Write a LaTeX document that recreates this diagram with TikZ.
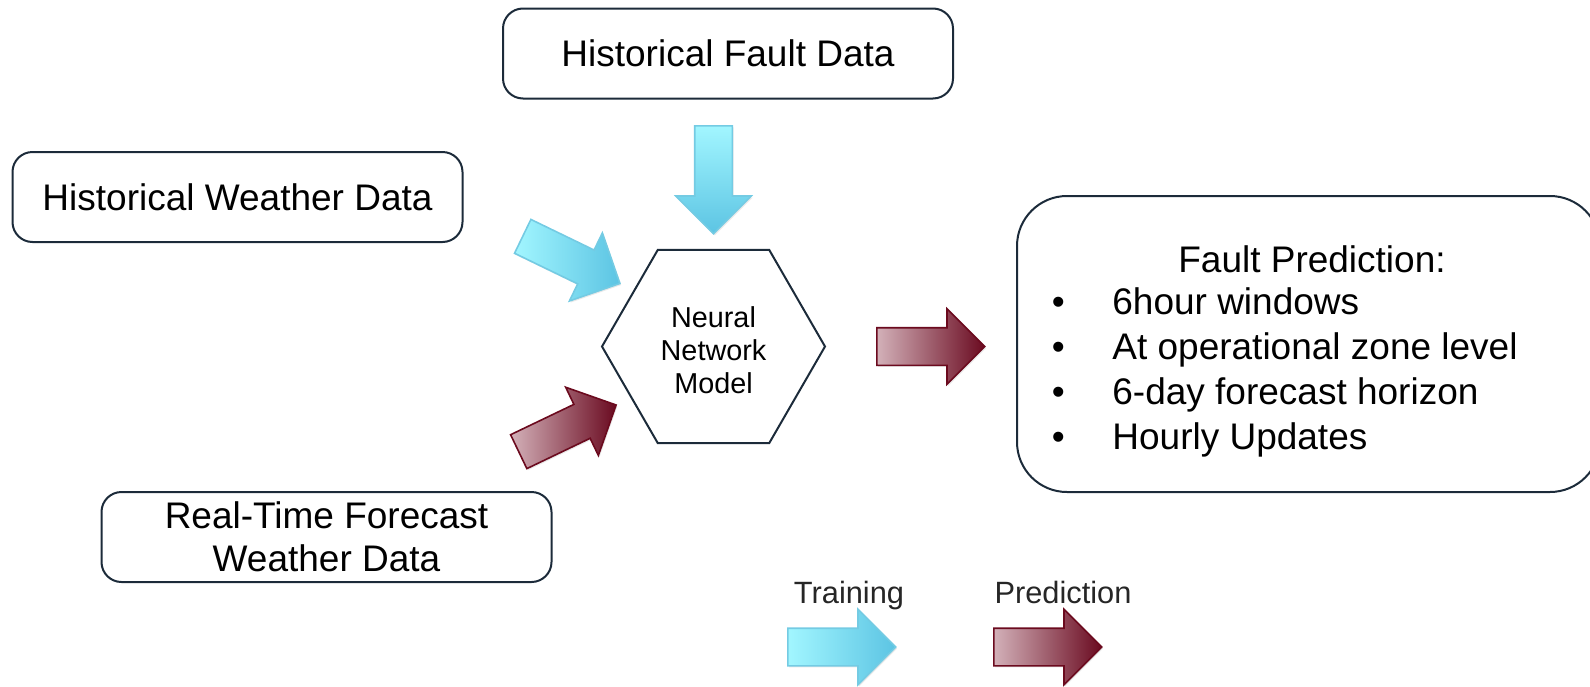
\documentclass[tikz,border=0pt]{standalone}
\usepackage{fontspec}
\setmainfont{Liberation Sans}
\usetikzlibrary{shapes.geometric,shapes.arrows,shadows}
\definecolor{boxline}{HTML}{1C2B3A}
\definecolor{bluel}{HTML}{A2F6FF}
\definecolor{blued}{HTML}{5CC4E3}
\definecolor{blueb}{HTML}{74CBE3}
\definecolor{redl}{HTML}{D3B1B9}
\definecolor{redd}{HTML}{6A0A20}
\definecolor{redb}{HTML}{6B0A1E}
\definecolor{legtext}{HTML}{262626}
\begin{document}
\begin{tikzpicture}[x=0.5pt,y=-0.5pt,
  databox/.style={draw=boxline, line width=1pt, rounded corners=10pt, minimum width=225pt, minimum height=45pt, align=center, font=\fontsize{18.5}{21.5}\selectfont, inner sep=0pt},
  blockarrow/.style={single arrow, single arrow head extend=9.5pt, single arrow head indent=0pt, single arrow tip angle=90, minimum height=54pt, inner xsep=0pt, inner ysep=9pt, anchor=tail, line width=0.8pt, drop shadow={shadow xshift=0.6pt, shadow yshift=-0.8pt, opacity=0.18}},
  trainarrow/.style={blockarrow, draw=blueb, left color=bluel, right color=blued},
  trainarrowdown/.style={blockarrow, draw=blueb, top color=bluel, bottom color=blued},
  predarrow/.style={blockarrow, draw=redb, left color=redl, right color=redd},
  bigtext/.style={font=\fontsize{18.5}{22.6}\selectfont, inner sep=0pt},
  legend/.style={font=\fontsize{15.4}{18}\selectfont, text=legtext, inner sep=0pt, anchor=base}
]
\useasboundingbox (0,0) rectangle (1590,686);
% data boxes
\node[databox] (fault) at (728,53.5) {Historical Fault Data};
\node[databox] (weather) at (237.5,197) {Historical Weather Data};
\node[databox] (rt) at (326.5,537) {Real-Time Forecast\\Weather Data};
% model
\node[draw=boxline, line width=1pt, regular polygon, regular polygon sides=6, minimum size=111.5pt, inner sep=0pt] (nn) at (713.5,346.5) {};
\node[align=center, inner sep=0pt, font=\fontsize{14.4}{16.6}\selectfont] (nntext) at (713.5,350) {Neural\\Network\\Model};
% prediction box
\node[draw=boxline, line width=1pt, rounded corners=25pt, minimum width=291.5pt, minimum height=148pt, inner sep=0pt] (pred) at (1308.5,344) {};
\node[bigtext] (predtitle) at (1312,259) {Fault Prediction:};
\node[bigtext, anchor=north west, align=left] (predlist) at (1051.5,287) {%
\makebox[30.25pt][l]{•}6hour windows\\
\makebox[30.25pt][l]{•}At operational zone level\\
\makebox[30.25pt][l]{•}6-day forecast horizon\\
\makebox[30.25pt][l]{•}Hourly Updates};
% arrows
\node[trainarrowdown, rotate=-90] (a1) at (713.5,125) {};
\node[trainarrow, rotate=-25.85] (a2) at (522,236) {};
\node[predarrow, rotate=25.6] (a3) at (518,452) {};
\node[predarrow] (a4) at (876,346.5) {};
% legend
\node[legend] (ltrain) at (849,603) {Training};
\node[legend] (lpred) at (1063,603) {Prediction};
\node[trainarrow] (la1) at (787,647) {};
\node[predarrow] (la2) at (993,647) {};
\end{tikzpicture}
\end{document}
